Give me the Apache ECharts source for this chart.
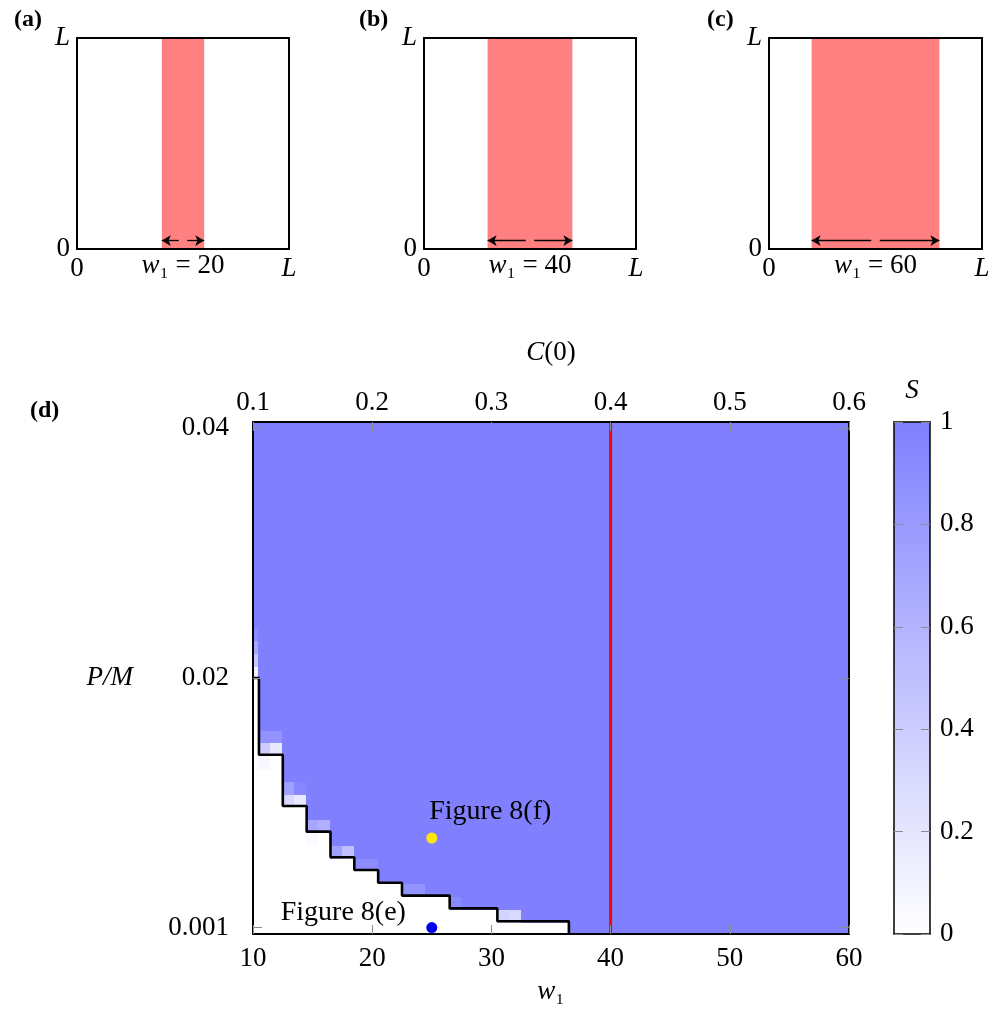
<!DOCTYPE html>
<html><head><meta charset="utf-8">
<script src="https://cdn.jsdelivr.net/npm/echarts@6/dist/echarts.min.js"></script>
<style>html,body{margin:0;padding:0;background:#fff}#c{width:993px;height:1011px}</style>
</head><body><div id="c"></div>
<script>
// ================= DATA =================
// Top panels (a)-(c): strip width w1 in a domain of size L
const panelNames = ['(a)', '(b)', '(c)'];
const panelW1 = [20, 40, 60];
const domainL = 100;
const panelTickPos = [0, 100];
const panelTickLabels = ['0', 'L'];

// Panel (d): heat map S(w1, P/M)
const w1Columns = [10,11,12,13,14,15,16,17,18,19,20,21,22,23,24,25,26,27,28,29,30,
                   31,32,33,34,35,36,37,38,39,40,41,42,43,44,45,46,47,48,49,50,
                   51,52,53,54,55,56,57,58,59,60];
const pmRows = ['0.001','0.002','0.003','0.004','0.005','0.006','0.007','0.008','0.009','0.010',
                '0.011','0.012','0.013','0.014','0.015','0.016','0.017','0.018','0.019','0.020',
                '0.021','0.022','0.023','0.024','0.025','0.026','0.027','0.028','0.029','0.030',
                '0.031','0.032','0.033','0.034','0.035','0.036','0.037','0.038','0.039','0.040'];
// first row (index into pmRows) where S = 1 for each w1 column
const blueStartRow = [20,14,14,10,10,8,8,6,6,5,5,4,4,3,3,3,3,2,2,2,2,
                      1,1,1,1,1,1,0,0,0,0,0,0,0,0,0,0,0,0,0,0,
                      0,0,0,0,0,0,0,0,0,0];
// cells with intermediate S: [w1, rowIndex, S]
const partialCells = [
  [10,20,0.12],[10,21,0.45],[10,22,0.7],[10,23,0.9],
  [11,15,0.85],[12,15,0.85],[11,14,0.4],[12,14,0.18],[11,13,0.06],
  [13,11,0.75],[14,11,0.95],[13,10,0.3],[14,10,0.18],
  [15,8,0.7],[16,8,0.62],[15,7,0.03],
  [17,6,0.75],[18,6,0.5],
  [19,5,0.9],[20,5,0.9],
  [23,3,0.85],[24,3,0.85],
  [27,2,0.92],
  [31,1,0.35],[32,1,0.3]
];
// S = 0 / S = 1 boundary: [w1, row boundary]
const contour = [[10,20],[10.5,20],[10.5,14],[12.5,14],[12.5,10],[14.5,10],[14.5,8],[16.5,8],
                 [16.5,6],[18.5,6],[18.5,5],[20.5,5],[20.5,4],[22.5,4],[22.5,3],[26.5,3],
                 [26.5,2],[30.5,2],[30.5,1],[36.5,1],[36.5,0]];
const redLineW1 = 40;
const markerNames = ['Figure 8(f)', 'Figure 8(e)'];
const markerW1 = [25, 25];
const markerRow = [7, 0];
const yTickRows = [0.5, 20, 39.5];
const yTickLabels = ['0.001', '0.02', '0.04'];
const colorbarTicks = [0, 0.2, 0.4, 0.6, 0.8, 1];

// ================= STYLE =================
const FONT = "'Liberation Serif','DejaVu Serif',serif";
const FS = 27;
const TICK = '#8c8c8c';
const RICH = {
  i: {fontStyle: 'italic', fontFamily: FONT, fontSize: FS, color: '#000'},
  n: {fontFamily: FONT, fontSize: FS, color: '#000'}
};
const markerColors = ['#ffe800', '#0000f0'];
const markerLabelLayout = [
  {position: [64, -21], align: 'center', verticalAlign: 'middle'},
  {position: [-83, -9], align: 'center', verticalAlign: 'middle'}
];

// ================= BUILD =================
const heatData = [];
w1Columns.forEach((w, ci) => {
  for (let r = 0; r < pmRows.length; r++) heatData.push([w, r, r >= blueStartRow[ci] ? 1 : 0]);
});
partialCells.forEach(([w, r, s]) => {
  heatData[w1Columns.indexOf(w) * pmRows.length + r][2] = s;
});

const panelLeft = [77, 424, 769];
const panelWidth = [212, 212, 213];

const grids = [{left: 253, top: 422, width: 596, height: 512, outerBoundsMode: 'none', containLabel: false}];
panelLeft.forEach((l, i) => grids.push({left: l, top: 38, width: panelWidth[i], height: 211, outerBoundsMode: 'none', containLabel: false}));
grids.push({left: 894, top: 422, width: 36, height: 512, outerBoundsMode: 'none', containLabel: false});

const blackLine = {show: true, onZero: false, lineStyle: {color: '#000', width: 2}};
const noTick = {show: false};
const noLabel = {show: false};
const noSplit = {show: false};

const xAxes = [
  { gridIndex: 0, type: 'value', min: 10, max: 60, interval: 10, position: 'bottom', z: 10,
    axisLine: blackLine, splitLine: noSplit,
    axisTick: {show: true, inside: true, length: 9, lineStyle: {color: TICK, width: 1}},
    axisLabel: {color: '#000', fontFamily: FONT, fontSize: FS, margin: 11},
    name: '{i|w}{n|₁}', nameLocation: 'middle', nameGap: 44, nameMoveOverlap: false, nameTextStyle: {rich: RICH} },
  { gridIndex: 0, type: 'value', min: 0.1, max: 0.6, interval: 0.1, position: 'top', z: 10,
    axisLine: blackLine, splitLine: noSplit,
    axisTick: {show: true, inside: true, length: 9, lineStyle: {color: TICK, width: 1}},
    axisLabel: {color: '#000', fontFamily: FONT, fontSize: FS, margin: 6, formatter: v => v.toFixed(1)},
    name: '{i|C}{n|(0)}', nameLocation: 'middle', nameGap: 56, nameMoveOverlap: false, nameTextStyle: {rich: RICH} }
];
const yAxes = [
  { gridIndex: 0, type: 'value', min: 0, max: pmRows.length, position: 'left', z: 10,
    axisLine: blackLine, splitLine: noSplit,
    axisTick: {show: true, inside: true, length: 9, customValues: yTickRows, lineStyle: {color: TICK, width: 1}},
    axisLabel: {color: '#000', fontFamily: FONT, fontSize: FS, margin: 24, customValues: yTickRows,
                formatter: v => yTickLabels[yTickRows.indexOf(v)]},
    name: '{i|P/M}', nameLocation: 'middle', nameRotate: 0, nameGap: 120, nameMoveOverlap: false, nameTextStyle: {rich: RICH} },
  { gridIndex: 0, type: 'value', min: 0, max: pmRows.length, position: 'right', z: 10,
    axisLine: blackLine, splitLine: noSplit, axisLabel: noLabel,
    axisTick: {show: true, inside: true, length: 9, customValues: yTickRows, lineStyle: {color: TICK, width: 1}} }
];
panelW1.forEach((w, i) => {
  const g = i + 1;
  xAxes.push({ gridIndex: g, type: 'value', min: 0, max: domainL, position: 'bottom', z: 10,
    axisLine: blackLine, splitLine: noSplit, axisTick: noTick,
    axisLabel: {margin: 6, customValues: panelTickPos, rich: RICH,
                formatter: v => panelTickLabels[panelTickPos.indexOf(v)] === 'L' ? '{i|L}' : '{n|0}'},
    name: '{i|w}{n|₁ = ' + w + '}', nameLocation: 'middle', nameGap: 3, nameMoveOverlap: false,
    nameTextStyle: {rich: RICH, verticalAlign: 'top'} });
  xAxes.push({ gridIndex: g, type: 'value', min: 0, max: domainL, position: 'top', z: 10,
    axisLine: blackLine, splitLine: noSplit, axisTick: noTick, axisLabel: noLabel });
  yAxes.push({ gridIndex: g, type: 'value', min: 0, max: domainL, position: 'left', z: 10,
    axisLine: blackLine, splitLine: noSplit, axisTick: noTick,
    axisLabel: {margin: 7, customValues: panelTickPos, rich: RICH,
                formatter: v => panelTickLabels[panelTickPos.indexOf(v)] === 'L' ? '{i|L}' : '{n|0}'} });
  yAxes.push({ gridIndex: g, type: 'value', min: 0, max: domainL, position: 'right', z: 10,
    axisLine: blackLine, splitLine: noSplit, axisTick: noTick, axisLabel: noLabel });
});
const cbLine = {show: true, onZero: false, lineStyle: {color: '#000', width: 1.5}};
xAxes.push({ gridIndex: 4, type: 'value', min: 0, max: 1, position: 'bottom', z: 10,
  axisLine: cbLine, splitLine: noSplit, axisTick: noTick, axisLabel: noLabel });
xAxes.push({ gridIndex: 4, type: 'value', min: 0, max: 1, position: 'top', z: 10,
  axisLine: cbLine, splitLine: noSplit, axisTick: noTick, axisLabel: noLabel,
  name: '{i|S}', nameLocation: 'middle', nameGap: 18, nameMoveOverlap: false, nameTextStyle: {rich: RICH} });
yAxes.push({ gridIndex: 4, type: 'value', min: 0, max: 1, position: 'left', z: 10,
  axisLine: cbLine, splitLine: noSplit, axisLabel: noLabel,
  axisTick: {show: true, inside: true, length: 9, customValues: colorbarTicks, lineStyle: {color: TICK, width: 1}} });
yAxes.push({ gridIndex: 4, type: 'value', min: 0, max: 1, position: 'right', z: 10,
  axisLine: cbLine, splitLine: noSplit,
  axisTick: {show: true, inside: true, length: 9, customValues: colorbarTicks, lineStyle: {color: TICK, width: 1}},
  axisLabel: {color: '#000', fontFamily: FONT, fontSize: FS, margin: 10, customValues: colorbarTicks,
              formatter: v => String(v)} });

const series = [];
// 0: heat map
series.push({
  type: 'custom', xAxisIndex: 0, yAxisIndex: 0, clip: true, z: 2,
  data: heatData,
  encode: {x: 0, y: 1},
  renderItem: (params, api) => {
    const x = api.value(0), y = api.value(1);
    const p0 = api.coord([x - 0.5, y + 1]);
    const p1 = api.coord([x + 0.5, y]);
    return {type: 'rect', shape: {x: Math.floor(p0[0]), y: Math.floor(p0[1]),
                                  width: Math.ceil(p1[0]) - Math.floor(p0[0]) + 1,
                                  height: Math.ceil(p1[1]) - Math.floor(p0[1]) + 1},
            style: {fill: api.visual('color')}};
  }
});
// 1: boundary
series.push({ type: 'line', xAxisIndex: 0, yAxisIndex: 0, data: contour, symbol: 'none', z: 5,
  lineStyle: {color: '#000', width: 2.6}, clip: false });
// 2: red line
series.push({ type: 'line', xAxisIndex: 0, yAxisIndex: 0, data: [[redLineW1, 0], [redLineW1, pmRows.length]],
  symbol: 'none', z: 5, lineStyle: {color: '#ff0000', width: 3} });
// 3: markers
series.push({ type: 'scatter', xAxisIndex: 0, yAxisIndex: 0, z: 6, symbolSize: 11,
  itemStyle: {opacity: 1},
  data: markerNames.map((n, i) => ({
    name: n, value: [markerW1[i], markerRow[i] + 0.5],
    itemStyle: {color: markerColors[i], opacity: 1},
    label: Object.assign({show: true, formatter: n, color: '#000', opacity: 1, fontFamily: FONT, fontSize: 28},
                         markerLabelLayout[i])
  }))
});
// 4-6: strips
panelW1.forEach((w, i) => {
  const lo = domainL / 2 - w / 2, hi = domainL / 2 + w / 2;
  series.push({
    type: 'custom', xAxisIndex: 2 * i + 2, yAxisIndex: 2 * i + 2, z: 2,
    data: [[lo, hi]],
    renderItem: (params, api) => {
      const p0 = api.coord([api.value(0), domainL]);
      const p1 = api.coord([api.value(1), 0]);
      return {type: 'rect', shape: {x: p0[0], y: p0[1], width: p1[0] - p0[0], height: p1[1] - p0[1]},
              style: {fill: '#ff8080'}};
    },
    markLine: {
      silent: true, symbol: ['none', 'arrow'], symbolSize: [8, 9], label: {show: false},
      lineStyle: {color: '#000', width: 1.3, type: 'solid'},
      data: [
        [{coord: [domainL / 2 - 2, 4]}, {coord: [lo, 4]}],
        [{coord: [domainL / 2 + 2, 4]}, {coord: [hi, 4]}]
      ]
    }
  });
});
// 7: colorbar
series.push({
  type: 'custom', xAxisIndex: 8, yAxisIndex: 8, z: 2, data: [[0, 1]],
  renderItem: (params, api) => {
    const p0 = api.coord([0, 1]);
    const p1 = api.coord([1, 0]);
    return {type: 'rect', shape: {x: p0[0], y: p0[1], width: p1[0] - p0[0], height: p1[1] - p0[1]},
            style: {fill: {type: 'linear', x: 0, y: 0, x2: 0, y2: 1,
                           colorStops: [{offset: 0, color: '#8080ff'}, {offset: 1, color: '#ffffff'}]}}};
  }
});

const titles = panelNames.concat(['(d)']).map((t, i) => ({
  text: t, left: [9, 354, 702, 25][i], top: [3, 3, 3, 394][i],
  textStyle: {fontFamily: FONT, fontWeight: 'bold', fontSize: 24, color: '#000'}
}));

const chart = echarts.init(document.getElementById('c'));
chart.setOption({
  animation: false,
  backgroundColor: '#fff',
  title: titles,
  grid: grids,
  xAxis: xAxes,
  yAxis: yAxes,
  visualMap: {show: false, type: 'continuous', min: 0, max: 1, dimension: 2, seriesIndex: 0,
              inRange: {color: ['#ffffff', '#8080ff']}},
  series: series
});
</script></body></html>
